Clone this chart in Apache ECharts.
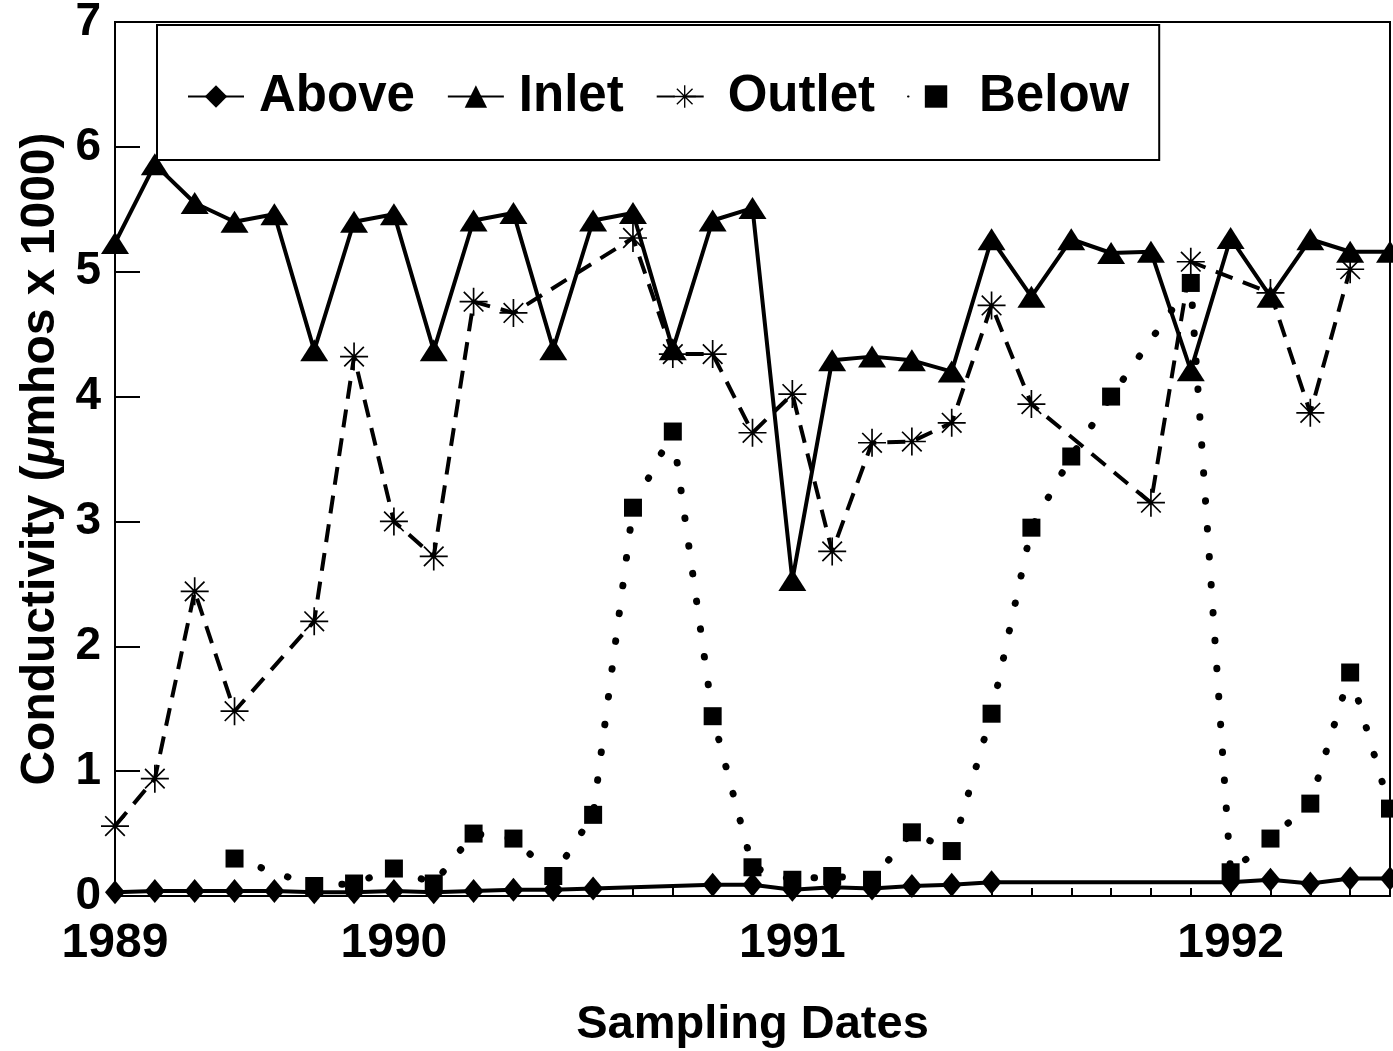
<!DOCTYPE html>
<html>
<head>
<meta charset="utf-8">
<script src="https://cdn.jsdelivr.net/npm/echarts@6/dist/echarts.min.js"></script>
<style>
html,body{margin:0;padding:0;background:#fff;}
#chart{width:1393px;height:1051px;}
</style>
</head>
<body>
<div id="chart"></div>
<script>
// Sampling dates (one category per sampling event)
const categories = Array.from({length: 33}, (_, i) => 'S' + (i + 1));
const tickLabels = ['1989','','','','','','','1990','','','','','','','','','','1991','','','','','','','','','','','1992','','','',''];
const yTicks = [0, 1, 2, 3, 4, 5, 6, 7];

const above  = [0.03,0.04,0.04,0.04,0.04,0.03,0.03,0.04,0.03,0.04,0.05,0.05,0.06,null,null,0.09,0.09,0.05,0.07,0.06,0.08,0.09,0.11,null,null,null,null,null,0.11,0.13,0.1,0.14,0.14];
const inlet  = [5.23,5.86,5.55,5.4,5.46,4.37,5.4,5.46,4.37,5.41,5.47,4.38,5.41,5.47,4.38,5.41,5.51,2.53,4.29,4.32,4.29,4.2,5.26,4.8,5.26,5.15,5.16,4.21,5.27,4.8,5.26,5.16,5.16];
const outlet = [0.56,0.94,2.44,1.48,null,2.2,4.32,3.0,2.72,4.76,4.67,null,null,5.27,4.34,4.34,3.71,4.02,2.76,3.63,3.64,3.79,4.73,3.94,null,null,3.15,5.08,null,4.83,3.87,5.02,null];
const below  = [null,null,null,0.3,null,0.08,0.1,0.22,0.1,0.5,0.46,0.16,0.65,3.11,3.72,1.44,0.23,0.13,0.16,0.13,0.51,0.36,1.46,2.95,3.52,4.0,null,4.91,0.19,0.46,0.74,1.79,0.7];

const FONT = "'Liberation Sans', Arial, Helvetica, sans-serif";
const ASTERISK = 'path://M0 47L100 47L100 53L0 53Z M47 0L53 0L53 100L47 100Z M12.9 17.1L17.1 12.9L87.1 82.9L82.9 87.1Z M82.9 12.9L87.1 17.1L17.1 87.1L12.9 82.9Z';

const chart = echarts.init(document.getElementById('chart'), null, {renderer: 'canvas'});
chart.setOption({
  backgroundColor: '#fff',
  animation: false,
  grid: {left: 115, top: 22, right: 3, bottom: 155, show: true, borderColor: '#000', borderWidth: 2,
         backgroundColor: 'transparent', containLabel: false, outerBoundsMode: 'none'},
  legend: {
    left: 157, top: 25,
    padding: [46, 30, 38, 30],
    itemGap: 32, itemWidth: 56, itemHeight: 28,
    borderColor: '#000', borderWidth: 2, backgroundColor: '#fff',
    textStyle: {fontFamily: FONT, fontWeight: 'bold', fontSize: 51, color: '#000', padding: [0, 0, 0, 10]},
    data: ['Above', 'Inlet', 'Outlet', 'Below'],
    z: 10
  },
  xAxis: {
    type: 'category',
    data: categories,
    boundaryGap: false,
    name: 'Sampling Dates',
    nameLocation: 'middle',
    nameGap: 106,
    nameTextStyle: {fontFamily: FONT, fontWeight: 'bold', fontSize: 47, color: '#000'},
    axisLine: {lineStyle: {color: '#000', width: 2}},
    axisTick: {show: true, inside: true, length: 8, interval: 0, lineStyle: {color: '#000', width: 2}},
    axisLabel: {interval: 0, margin: 24, fontFamily: FONT, fontWeight: 'bold', fontSize: 48, color: '#000',
      formatter: (v, i) => tickLabels[i]},
    splitLine: {show: false}
  },
  yAxis: {
    type: 'value',
    min: yTicks[0], max: yTicks[yTicks.length - 1], interval: 1,
    name: '{a|Conductivity (}{b|μ}{a|mhos x 1000)}',
    nameLocation: 'middle',
    nameGap: 50,
    nameTextStyle: {
      rich: {
        a: {fontFamily: FONT, fontWeight: 'bold', fontSize: 48, color: '#000'},
        b: {fontFamily: FONT, fontWeight: 'bold', fontStyle: 'italic', fontSize: 48, color: '#000'}
      }
    },
    axisLine: {show: true, lineStyle: {color: '#000', width: 2}},
    axisTick: {show: true, inside: true, length: 25, lineStyle: {color: '#000', width: 2}},
    axisLabel: {margin: 14, fontFamily: FONT, fontWeight: 'bold', fontSize: 46, color: '#000',
      formatter: v => String(v)},
    splitLine: {show: false}
  },
  series: [
    {name: 'Above', type: 'line', data: above, connectNulls: true,
     symbol: 'diamond', symbolSize: [20, 24],
     itemStyle: {color: '#000'}, lineStyle: {color: '#000', width: 4}, z: 2},
    {name: 'Inlet', type: 'line', data: inlet, connectNulls: true,
     symbol: 'triangle', symbolSize: [28, 22],
     itemStyle: {color: '#000'}, lineStyle: {color: '#000', width: 4}, z: 3},
    {name: 'Outlet', type: 'line', data: outlet, connectNulls: true,
     symbol: ASTERISK, symbolSize: 28,
     itemStyle: {color: '#000'}, lineStyle: {color: '#000', width: 4, type: [18, 11]}, z: 4},
    {name: 'Below', type: 'line', data: below, connectNulls: true,
     symbol: 'rect', symbolSize: 18,
     itemStyle: {color: '#000'}, lineStyle: {color: '#000', width: 7, type: [0.5, 27.5], cap: 'round'}, z: 5}
  ]
});
</script>
</body>
</html>
